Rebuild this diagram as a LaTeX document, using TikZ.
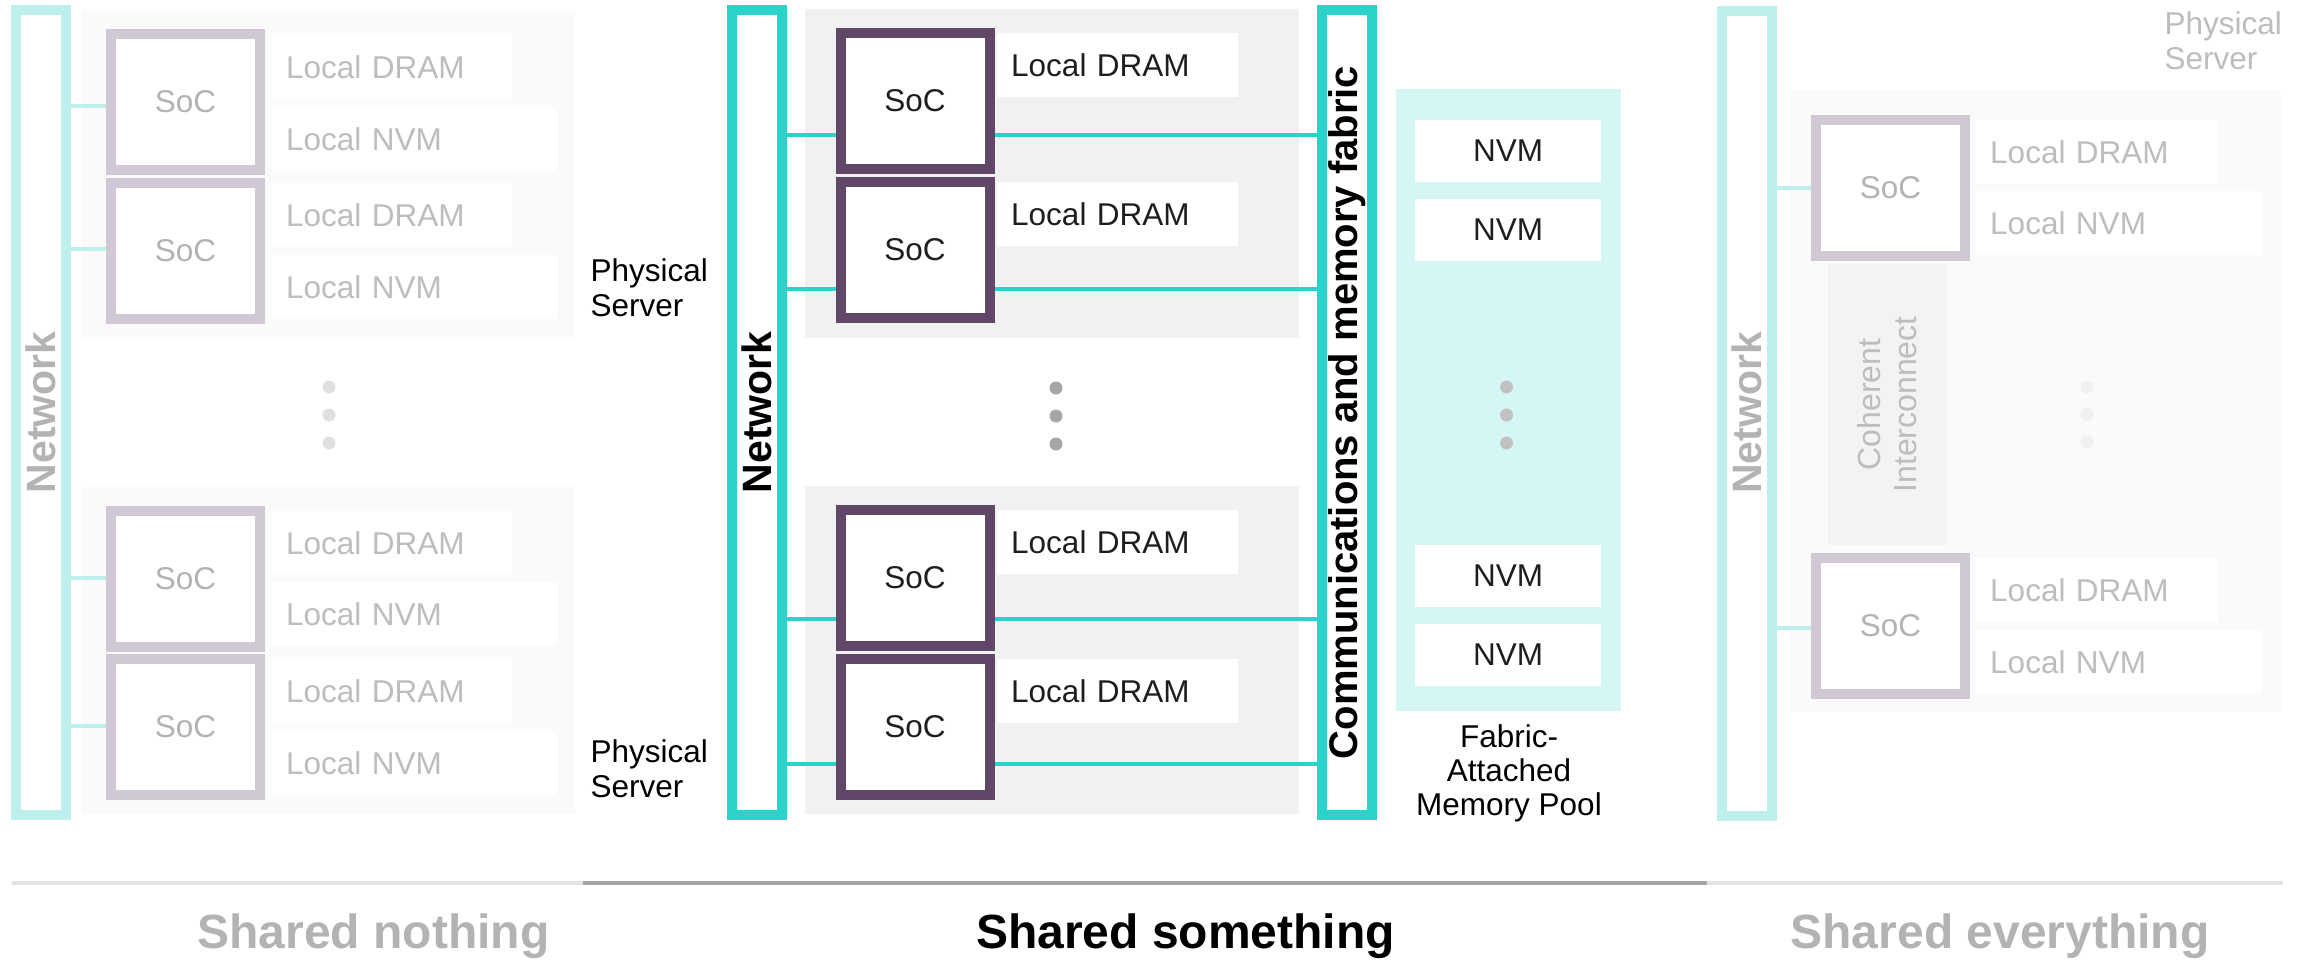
\documentclass[tikz,border=0pt]{standalone}
\usepackage{fontspec}
\setmainfont{Liberation Sans}

% palette
\definecolor{hpeTeal}{HTML}{2AD2C9}
\definecolor{tealFade}{HTML}{BDF0EC}
\definecolor{socDark}{HTML}{614767}
\definecolor{socFade}{HTML}{D0C8D4}
\definecolor{srvMid}{HTML}{F1F1F1}
\definecolor{srvFade}{HTML}{FAFAFA}
\definecolor{poolBg}{HTML}{D4F6F4}
\definecolor{coherBg}{HTML}{F3F2F4}
\definecolor{txtFade}{HTML}{BDBDBD}
\definecolor{netFade}{HTML}{B3B3B3}
\definecolor{txtDark}{HTML}{1E1E1E}
\definecolor{dotMid}{HTML}{A6A6A6}
\definecolor{dotPool}{HTML}{C2C2C2}
\definecolor{dotLeft}{HTML}{E0E0E0}
\definecolor{dotRight}{HTML}{F0F0F0}
\definecolor{ruleLight}{HTML}{E3E3E3}
\definecolor{ruleDark}{HTML}{A6A6A6}

\begin{document}
\begin{tikzpicture}[x=1pt, y=-1pt,
  font=\fontsize{31.5}{35}\selectfont,
  bar/.style={draw=#1, fill=white, line width=10pt, minimum width=50pt,
              minimum height=805pt, inner sep=0pt},
  barlabel/.style={rotate=90, font=\bfseries\fontsize{41}{45}\selectfont},
  soc/.style={draw=#1, fill=white, line width=10pt, minimum width=149pt,
              minimum height=136pt, inner sep=0pt},
  mem/.style={fill=white, anchor=north west, minimum height=64pt, text width=#1,
              inner xsep=14pt, inner ysep=0pt, align=left},
  poolcell/.style={fill=white, minimum width=186pt, minimum height=62pt, inner sep=0pt, text=txtDark},
  link/.style={draw=#1, line width=4pt},
  dot/.style={fill=#1},
  caption/.style={anchor=base, font=\bfseries\fontsize{48}{55}\selectfont}
]
\fill[white] (0,0) rectangle (2302,959);
\useasboundingbox (0,0) rectangle (2302,959);

% ---------------- Shared nothing ----------------
\fill[srvFade] (82,11) rectangle (575,339);
\fill[srvFade] (82,487) rectangle (575,814);
\node[bar=tealFade] (netL) at (40.5,412.5) {};
\node[barlabel, text=netFade] at (netL.center) {Network};

\node[soc=socFade, text=netFade] (socL1) at (185.5,102) {SoC};
\node[soc=socFade, text=netFade] (socL2) at (185.5,250.5) {SoC};
\node[soc=socFade, text=netFade] (socL3) at (185.5,578.5) {SoC};
\node[soc=socFade, text=netFade] (socL4) at (185.5,727) {SoC};

\node[mem=212pt, text=txtFade] (dramL1) at (272,35) {Local DRAM};
\node[mem=257pt, text=txtFade] (nvmL1) at (272,107) {Local NVM};
\node[mem=212pt, text=txtFade] (dramL2) at (272,183) {Local DRAM};
\node[mem=257pt, text=txtFade] (nvmL2) at (272,255) {Local NVM};
\node[mem=212pt, text=txtFade] (dramL3) at (272,511) {Local DRAM};
\node[mem=257pt, text=txtFade] (nvmL3) at (272,582) {Local NVM};
\node[mem=212pt, text=txtFade] (dramL4) at (272,659) {Local DRAM};
\node[mem=257pt, text=txtFade] (nvmL4) at (272,731) {Local NVM};

\coordinate (hL1) at (0,106);
\coordinate (hL2) at (0,249);
\coordinate (hL3) at (0,578);
\coordinate (hL4) at (0,726);
\foreach \i in {1,2,3,4}
  \draw[link=tealFade] (netL.east |- hL\i) -- (socL\i.west |- hL\i);

\foreach \yy in {387,415,443}
  \fill[dot=dotLeft] (329,\yy) circle[radius=6.5pt];

% ---------------- Shared something ----------------
\fill[srvMid] (805,9) rectangle (1299,338);
\fill[srvMid] (805,486) rectangle (1299,814);
\node[bar=hpeTeal] (netM) at (757,412.5) {};
\node[barlabel, text=black] at (netM.center) {Network};
\node[bar=hpeTeal] (fab) at (1347,412.5) {};
\node[barlabel, text=black, font=\bfseries\fontsize{40}{44}\selectfont] at (fab.center)
  {Communications and memory fabric};

\node[soc=socDark, text=txtDark] (socM1) at (915,101) {SoC};
\node[soc=socDark, text=txtDark] (socM2) at (915,250) {SoC};
\node[soc=socDark, text=txtDark] (socM3) at (915,578) {SoC};
\node[soc=socDark, text=txtDark] (socM4) at (915,726.5) {SoC};

\node[mem=213pt, text=txtDark] (dramM1) at (997,33) {Local DRAM};
\node[mem=213pt, text=txtDark] (dramM2) at (997,182) {Local DRAM};
\node[mem=213pt, text=txtDark] (dramM3) at (997,510) {Local DRAM};
\node[mem=213pt, text=txtDark] (dramM4) at (997,659) {Local DRAM};

\coordinate (hM1) at (0,135);
\coordinate (hM2) at (0,289);
\coordinate (hM3) at (0,619);
\coordinate (hM4) at (0,764);
\foreach \i in {1,2,3,4}{
  \draw[link=hpeTeal] (netM.east |- hM\i) -- (socM\i.west |- hM\i);
  \draw[link=hpeTeal] (socM\i.east |- hM\i) -- (fab.west |- hM\i);
}

\foreach \yy in {388,416,444}
  \fill[dot=dotMid] (1056,\yy) circle[radius=6.5pt];

\node[anchor=west, align=left, text=black] at (587,288) {Physical\\Server};
\node[anchor=west, align=left, text=black] at (587,769) {Physical\\Server};

% fabric-attached memory pool
\fill[poolBg] (1396,89) rectangle (1621,711);
\node[poolcell] (nvmP1) at (1508,151) {NVM};
\node[poolcell] (nvmP2) at (1508,230) {NVM};
\node[poolcell] (nvmP3) at (1508,576) {NVM};
\node[poolcell] (nvmP4) at (1508,655) {NVM};
\foreach \yy in {387,415,443}
  \fill[dot=dotPool] (1506.5,\yy) circle[radius=6.5pt];
\node[align=center, text=black, font=\fontsize{31.5}{34}\selectfont] at (1509,773)
  {Fabric-\\Attached\\Memory Pool};

% ---------------- Shared everything ----------------
\fill[srvFade] (1789,90) rectangle (2281,712);
\node[bar=tealFade] (netR) at (1746.5,413) {};
\node[barlabel, text=netFade] at (netR.center) {Network};

\node[fill=coherBg, minimum width=119pt, minimum height=281pt, inner sep=0pt] (coh) at (1887.5,404.5) {};
\node[rotate=90, align=center, text=txtFade, font=\fontsize{32}{36}\selectfont] at (coh.center)
  {Coherent\\Interconnect};

\node[soc=socFade, text=netFade] (socR1) at (1890.5,188) {SoC};
\node[soc=socFade, text=netFade] (socR2) at (1890.5,625.5) {SoC};

\node[mem=214pt, text=txtFade] (dramR1) at (1976,120) {Local DRAM};
\node[mem=258pt, text=txtFade] (nvmR1) at (1976,191) {Local NVM};
\node[mem=214pt, text=txtFade] (dramR2) at (1976,558) {Local DRAM};
\node[mem=258pt, text=txtFade] (nvmR2) at (1976,630) {Local NVM};

\coordinate (hR1) at (0,188);
\coordinate (hR2) at (0,628);
\foreach \i in {1,2}
  \draw[link=tealFade] (netR.east |- hR\i) -- (socR\i.west |- hR\i);

\foreach \yy in {387,414,442}
  \fill[dot=dotRight] (2087,\yy) circle[radius=6.5pt];

\node[anchor=west, align=left, text=txtFade] at (2161,41) {Physical\\Server};

% ---------------- captions ----------------
\coordinate (r0) at (12,883);
\coordinate (r1) at (583,883);
\coordinate (r2) at (1707,883);
\coordinate (r3) at (2283,883);
\draw[ruleLight, line width=4pt] (r0) -- (r1);
\draw[ruleDark, line width=4pt] (r1) -- (r2);
\draw[ruleLight, line width=4pt] (r2) -- (r3);

\node[caption, text=netFade] at (373.5,948) {Shared nothing};
\node[caption, text=black] at (1185.5,948) {Shared something};
\node[caption, text=netFade] at (2000,948) {Shared everything};
\end{tikzpicture}
\end{document}
